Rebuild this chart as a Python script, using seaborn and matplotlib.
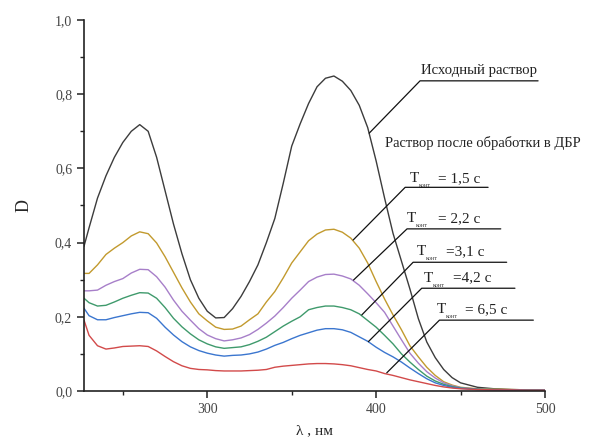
import pandas as pd, numpy as np
import matplotlib
matplotlib.use('Agg')
import matplotlib.pyplot as plt
import seaborn as sns
from matplotlib.ticker import MultipleLocator, FuncFormatter

# wavelengths, nm
wl = [227, 230, 235, 240, 245, 250, 255, 260, 265, 270, 275, 280, 285, 290, 295, 300, 305,
      310, 315, 320, 325, 330, 335, 340, 345, 350, 355, 360, 365, 370, 375, 380, 385, 390,
      395, 400, 405, 410, 415, 420, 425, 430, 435, 440, 445, 450, 460, 470, 480, 490, 500]

# optical density of each spectrum
d_initial = [0.390, 0.440, 0.520, 0.580, 0.630, 0.670, 0.700, 0.718, 0.700, 0.630, 0.540,
             0.450, 0.370, 0.300, 0.250, 0.215, 0.197, 0.198, 0.222, 0.255, 0.295, 0.340,
             0.400, 0.465, 0.560, 0.660, 0.720, 0.775, 0.820, 0.843, 0.849, 0.835, 0.810,
             0.770, 0.710, 0.620, 0.520, 0.425, 0.350, 0.275, 0.195, 0.132, 0.090, 0.058,
             0.036, 0.022, 0.010, 0.006, 0.004, 0.003, 0.002]
d_15 = [0.317, 0.317, 0.340, 0.368, 0.385, 0.400, 0.418, 0.429, 0.424, 0.399, 0.362, 0.320,
        0.278, 0.240, 0.208, 0.189, 0.172, 0.166, 0.167, 0.175, 0.192, 0.208, 0.240, 0.268,
        0.305, 0.345, 0.375, 0.405, 0.423, 0.434, 0.436, 0.428, 0.412, 0.385, 0.345, 0.295,
        0.248, 0.205, 0.165, 0.122, 0.092, 0.064, 0.042, 0.025, 0.016, 0.010, 0.006, 0.005,
        0.004, 0.003, 0.002]
d_22 = [0.270, 0.270, 0.272, 0.285, 0.295, 0.303, 0.318, 0.328, 0.327, 0.308, 0.280, 0.245,
        0.215, 0.191, 0.168, 0.151, 0.141, 0.135, 0.138, 0.143, 0.152, 0.166, 0.183, 0.202,
        0.225, 0.250, 0.272, 0.295, 0.307, 0.314, 0.315, 0.310, 0.302, 0.285, 0.262, 0.238,
        0.212, 0.175, 0.138, 0.102, 0.075, 0.052, 0.035, 0.022, 0.014, 0.009, 0.005, 0.004,
        0.003, 0.002, 0.002]
d_31 = [0.250, 0.238, 0.229, 0.231, 0.240, 0.250, 0.258, 0.265, 0.264, 0.250, 0.225, 0.196,
        0.173, 0.154, 0.138, 0.127, 0.119, 0.115, 0.117, 0.119, 0.125, 0.134, 0.145, 0.160,
        0.175, 0.188, 0.200, 0.219, 0.225, 0.229, 0.229, 0.225, 0.219, 0.208, 0.190, 0.172,
        0.150, 0.127, 0.100, 0.078, 0.058, 0.040, 0.027, 0.018, 0.012, 0.008, 0.005, 0.004,
        0.003, 0.002, 0.002]
d_42 = [0.223, 0.203, 0.192, 0.192, 0.198, 0.203, 0.208, 0.212, 0.211, 0.196, 0.172, 0.151,
        0.133, 0.119, 0.109, 0.102, 0.097, 0.094, 0.096, 0.097, 0.100, 0.105, 0.113, 0.123,
        0.131, 0.141, 0.150, 0.157, 0.164, 0.168, 0.168, 0.165, 0.158, 0.146, 0.134, 0.118,
        0.104, 0.092, 0.078, 0.062, 0.047, 0.033, 0.022, 0.015, 0.010, 0.007, 0.004, 0.003,
        0.003, 0.002, 0.002]
d_65 = [0.191, 0.150, 0.122, 0.113, 0.116, 0.120, 0.121, 0.122, 0.120, 0.108, 0.093, 0.079,
        0.068, 0.061, 0.058, 0.057, 0.055, 0.054, 0.054, 0.054, 0.055, 0.056, 0.058, 0.064,
        0.067, 0.069, 0.071, 0.073, 0.074, 0.074, 0.073, 0.071, 0.068, 0.063, 0.058, 0.054,
        0.047, 0.042, 0.036, 0.030, 0.025, 0.020, 0.015, 0.011, 0.008, 0.006, 0.004, 0.003,
        0.003, 0.002, 0.002]

series = ['initial', '1,5', '2,2', '3,1', '4,2', '6,5']
values = [d_initial, d_15, d_22, d_31, d_42, d_65]
colors = ['#3c3c3c', '#c29a2e', '#a77fc9', '#3f9a6c', '#3b76cf', '#d24a4a']

df = pd.concat([pd.DataFrame({'wl': wl, 'D': v, 'series': s}) for s, v in zip(series, values)])

sns.set_style("ticks")
plt.rcParams['font.family'] = ['Liberation Serif', 'DejaVu Serif']

fig = plt.figure(figsize=(5.89, 4.48), dpi=100)
ax = fig.add_axes([84/589, 1-391/448, (545-84)/589, (391-20)/448])

sns.lineplot(data=df, x='wl', y='D', hue='series', palette=dict(zip(series, colors)),
             estimator=None, sort=False, legend=False, linewidth=1.0, ax=ax)

ax.set_xlim(227, 500)
ax.set_ylim(0, 1.0)
ax.xaxis.set_major_locator(MultipleLocator(100))
ax.xaxis.set_minor_locator(MultipleLocator(50))
ax.yaxis.set_major_locator(MultipleLocator(0.2))
ax.yaxis.set_minor_locator(MultipleLocator(0.1))
ax.yaxis.set_major_formatter(FuncFormatter(lambda v, p: ('%.1f' % v).replace('.', ',')))
ax.tick_params(which='major', length=5, width=1.1, colors='#222222', labelcolor='#444444', labelsize=10)
ax.tick_params(which='minor', length=3, width=1.0, colors='#222222')
for s in ['left', 'bottom']:
    ax.spines[s].set_linewidth(1.2)
    ax.spines[s].set_color('#222222')
sns.despine(ax=ax)

ax.set_xlabel('λ , нм', fontsize=11, labelpad=6)
ax.set_ylabel('D', fontsize=13, labelpad=16)

# leader lines and labels
def leader(pts):
    ax.plot([p[0] for p in pts], [p[1] for p in pts], color='#111111', lw=0.9, clip_on=False)

leader([(395.9, 0.695), (426.0, 0.836), (495.9, 0.836)])
ax.text(461, 0.865, 'Исходный раствор', ha='center', va='center', fontsize=10.6, color='#222222')
ax.text(405.3, 0.668, 'Раствор после обработки в ДБР', ha='left', va='center', fontsize=10.5, color='#222222')

labels = [
    ((386.4, 0.407), (417.2, 0.549), (466.3, 0.549), (420.0, 0.563), '= 1,5 с', 28),
    ((386.6, 0.299), (418.3, 0.437), (473.8, 0.437), (418.3, 0.456), '= 2,2 с', 31),
    ((391.5, 0.205), (421.9, 0.347), (477.3, 0.347), (424.3, 0.367), '=3,1 с', 29),
    ((395.4, 0.133), (427.0, 0.277), (482.2, 0.277), (428.4, 0.295), '=4,2 с', 29),
    ((406.3, 0.049), (437.5, 0.191), (493.1, 0.191), (436.1, 0.211), '= 6,5 с', 28),
]
for a, b, c, t, txt, off in labels:
    leader([a, b, c])
    ax.text(t[0], t[1], 'T', ha='left', va='baseline', fontsize=11, color='#222222')
    ax.annotate('конт', xy=t, xytext=(9, -5), textcoords='offset pixels', fontsize=4.5,
                ha='left', va='baseline', color='#444444')
    ax.annotate(txt, xy=t, xytext=(off, 0), textcoords='offset pixels', fontsize=11,
                ha='left', va='baseline', color='#222222')

fig.savefig('out.png', dpi=100)
